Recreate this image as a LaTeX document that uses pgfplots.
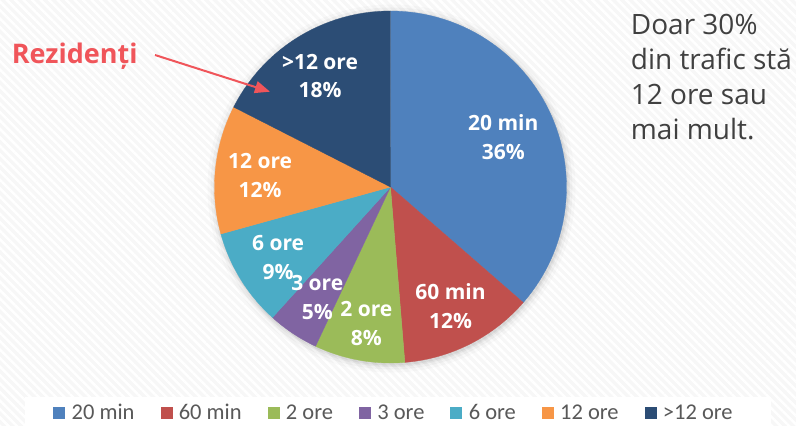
\documentclass[border=0pt]{standalone}
\usepackage{pgfplots}
\pgfplotsset{compat=1.18}
\usetikzlibrary{patterns.meta,arrows.meta}
\usepackage{fontspec}
\setmainfont{Open Sans}
\newfontfamily\legfont{Carlito}
\definecolor{c1}{HTML}{4F81BD}
\definecolor{c2}{HTML}{C0504D}
\definecolor{c3}{HTML}{9BBB59}
\definecolor{c4}{HTML}{8064A2}
\definecolor{c5}{HTML}{4BACC6}
\definecolor{c6}{HTML}{F79646}
\definecolor{c7}{HTML}{2C4D75}
\definecolor{redc}{HTML}{F0555A}
\definecolor{txt}{HTML}{404040}
\definecolor{legtxt}{HTML}{595959}
\tikzset{lbl/.style={font=\bfseries\fontsize{21}{29}\selectfont, text=white, align=center, inner sep=0pt}}
% slice: cumulative start %, cumulative end %, colour, legend name
\newcommand{\slice}[4]{%
  \addplot[fill=#3, draw=#3, line width=0.3pt, domain=#1:#2, samples=60, variable=\t]
    ({sin(3.6*\t)},{cos(3.6*\t)}) -- (0,0) -- cycle;
  \addlegendentry{#4}}
\begin{document}
\begin{tikzpicture}[x=1pt,y=1pt]
\useasboundingbox (0,0) rectangle (796,426);
\fill[black!3] (0,0) rectangle (796,426);
\fill[pattern={Lines[angle=-45,distance=6pt,line width=2.5pt]},pattern color=white] (0,0) rectangle (796,426);
\fill[white] (25,0) rectangle (771,29);
% soft shadow
\foreach \r/\o in {184/0.02,181/0.03,178.5/0.04,177/0.05}
  \fill[black,opacity=\o] (391.5,237.5) circle (\r);
\begin{axis}[
  at={(390.5pt,239pt)}, anchor=center,
  x=176pt, y=176pt, xmin=-1, xmax=1, ymin=-1, ymax=1,
  hide axis, clip=false,
  legend columns=-1,
  legend image code/.code={\fill[#1] (0pt,-5.5pt) rectangle (11pt,5.5pt);},
  legend style={at={(0.51,-0.1420)}, anchor=center, draw=none, fill=none,
    font=\legfont\fontsize{22.5}{26}\selectfont, text=legtxt,
    /tikz/every even column/.append style={column sep=24pt},
    /tikz/every odd column/.append style={column sep=5pt},
    inner sep=0pt, cells={anchor=west}},
]
% values: 36.4, 12.3, 8.3, 4.7, 9.0, 11.8, 17.5 (%)
\slice{0}{36.4}{c1}{20 min}
\slice{36.4}{48.7}{c2}{60 min}
\slice{48.7}{57.0}{c3}{2 ore}
\slice{57.0}{61.7}{c4}{3 ore}
\slice{61.7}{70.7}{c5}{6 ore}
\slice{70.7}{82.5}{c6}{12 ore}
\slice{82.5}{100}{c7}{>12 ore}
\node[lbl] at ({0.70*sin(3.6*18.4)},{0.70*cos(3.6*18.4)}) {20 min\\36\%};
\node[lbl] at ({0.76*sin(3.6*42.6)},{0.76*cos(3.6*42.6)}) {60 min\\12\%};
\node[lbl] at ({0.785*sin(3.6*52.8)},{0.785*cos(3.6*52.8)}) {2 ore\\8\%};
\node[lbl] at ({0.753*sin(3.6*66.1)},{0.753*cos(3.6*66.1)}) {6 ore\\9\%};
\node[lbl] at ({0.754*sin(3.6*59.3)},{0.754*cos(3.6*59.3)}) {3 ore\\5\%};
\node[lbl] at ({0.744*sin(3.6*76.4)},{0.744*cos(3.6*76.4)}) {12 ore\\12\%};
\node[lbl] at ({0.747*sin(3.6*91)},{0.747*cos(3.6*91)}) {>12 ore\\18\%};
\end{axis}
\draw[redc, line width=2pt, -{Triangle[length=15pt,width=12pt]}] (155,371) -- (270,334.3);
\node[anchor=base west, inner sep=0pt, font=\bfseries\fontsize{27}{34}\selectfont, text=redc] at (11.7,362.7) {Rezidenți};
\begin{scope}[every node/.style={anchor=base west, inner sep=0pt, font=\fontsize{28}{34}\selectfont, text=txt}]
\node at (630.7,391) {Doar 30\%};
\node at (630.7,356) {din trafic stă};
\node at (630.7,321) {12 ore sau};
\node at (630.7,286) {mai mult.};
\end{scope}
\end{tikzpicture}
\end{document}
